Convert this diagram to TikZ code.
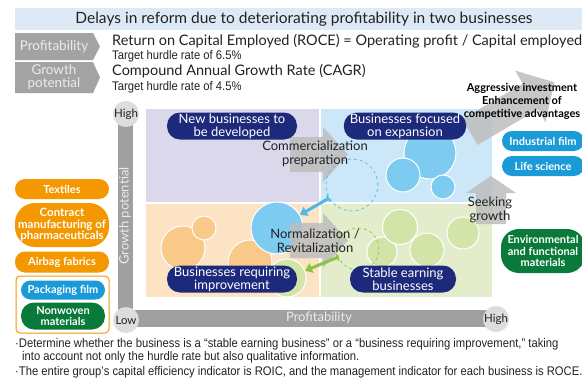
\documentclass[tikz,border=0pt]{standalone}
\usepackage{fontspec}
\setmainfont{Lato}
\newfontfamily\narrowfont[FakeStretch=0.9]{Liberation Sans}
\usetikzlibrary{arrows.meta}

\definecolor{navy}{HTML}{1D2A7B}
\definecolor{titleblue}{HTML}{DDEAF6}
\definecolor{chevgray}{HTML}{A3A3A3}
\definecolor{axisgray}{HTML}{A0A0A0}
\definecolor{dotgray}{HTML}{DDDDDD}
\definecolor{lavender}{HTML}{DCD8EC}
\definecolor{skyquad}{HTML}{CCE7F8}
\definecolor{peachquad}{HTML}{FBE3C3}
\definecolor{limequad}{HTML}{E3EDCC}
\definecolor{peachdot}{HTML}{F9C98A}
\definecolor{skydot}{HTML}{7DCBF0}
\definecolor{limedot}{HTML}{D3E4A9}
\definecolor{skyline}{HTML}{4DB8EA}
\definecolor{limeline}{HTML}{8DC243}
\definecolor{movegray}{HTML}{BDBDBD}
\definecolor{pillorange}{HTML}{F39800}
\definecolor{pillblue}{HTML}{1A9BD7}
\definecolor{pillgreen}{HTML}{0A7A3B}
\definecolor{inkgray}{HTML}{222222}

\tikzset{
  quad/.style={draw=white, line width=1.5pt},
  bubble/.style={circle, draw=white, line width=1pt, inner sep=0pt},
  ring/.style={circle, dashed, line width=0.9pt, inner sep=0pt},
  qlabel/.style={fill=navy, text=white, rounded corners=13pt, align=center,
    minimum height=27pt, inner xsep=6pt, inner ysep=0pt,
    font=\fontsize{13}{13}\selectfont},
  pill/.style={text=white, align=center, inner sep=0pt,
    font=\bfseries\fontsize{11}{11.5}\selectfont},
  move/.style={fill=movegray, opacity=0.85},
  movetext/.style={text=inkgray, align=center, font=\fontsize{13}{14.5}\selectfont},
  axisdot/.style={circle, fill=dotgray, minimum size=26pt, inner sep=0pt,
    text=inkgray, font=\fontsize{11.5}{12}\selectfont},
  note/.style={anchor=west, inner sep=0pt, text=inkgray,
    font=\narrowfont\fontsize{12.5}{12}\selectfont},
}

\begin{document}
\begin{tikzpicture}[x=1pt,y=-1pt]
  \useasboundingbox (0,0) rectangle (582,380);

  % heading and the two indicators
  \fill[titleblue] (15,8) rectangle (582,30);
  \node[text=inkgray, font=\fontsize{15.5}{15}\selectfont] (title) at (304,19)
    {Delays in reform due to deteriorating profitability in two businesses};

  \foreach \top/\bot in {33/60, 62/93} {
    \fill[chevgray] (15,\top) -- (93,\top) -- (100,{(\top+\bot)/2}) -- (93,\bot) -- (15,\bot) -- cycle;
  }
  \node[text=white!92!black, font=\fontsize{13.5}{12}\selectfont] (kpi1) at (54,47) {Profitability};
  \node[text=white!92!black, align=center, font=\fontsize{13.5}{13}\selectfont] (kpi2) at (54,77) {Growth\\potential};

  \node[anchor=west, inner sep=0pt, text=inkgray, font=\fontsize{14.5}{14}\selectfont] (roce) at (112,41)
    {Return on Capital Employed (ROCE) = Operating profit / Capital employed};
  \node[note] (roce-t) at (112,56) {Target hurdle rate of 6.5\%};
  \node[anchor=west, inner sep=0pt, text=inkgray, font=\fontsize{14.5}{14}\selectfont] (cagr) at (112,71)
    {Compound Annual Growth Rate (CAGR)};
  \node[note] (cagr-t) at (112,87) {Target hurdle rate of 4.5\%};

  % the four quadrants
  \filldraw[quad, fill=lavender] (145,108) rectangle (320,203);
  \filldraw[quad, fill=skyquad] (320,108) rectangle (493,203);
  \filldraw[quad, fill=peachquad] (145,203) rectangle (320,298);
  \filldraw[quad, fill=limequad] (320,203) rectangle (493,298);

  % axes
  \fill[axisgray] (118,114) rectangle (133,320);
  \fill[axisgray] (126,310) rectangle (496,327);
  \node[axisdot] (gHigh) at (126,114) {High};
  \node[axisdot] (gLow) at (126,320) {Low};
  \node[axisdot] (pHigh) at (496,319) {High};
  \node[rotate=90, text=white!92!black, font=\fontsize{13}{12}\selectfont] (gLabel) at (125,216) {Growth potential};
  \node[text=white!92!black, font=\fontsize{13}{12}\selectfont] (pLabel) at (319,318) {Profitability};

  % businesses as bubbles
  \node[bubble, fill=peachdot, minimum size=44pt] (p1) at (183,248) {};
  \node[bubble, fill=peachdot, minimum size=24pt] (p2) at (204,228) {};
  \node[bubble, fill=peachdot, minimum size=44pt] (p3) at (250,262) {};
  \node[bubble, fill=skydot, minimum size=52pt] (bluebig) at (277,228) {};
  \node[bubble, fill=limedot, minimum size=38pt] (greenlow) at (287,278) {};

  \node[bubble, fill=skydot, minimum size=52pt] (s1) at (430,153) {};
  \node[bubble, fill=skydot, minimum size=34pt] (s2) at (403,175) {};
  \node[bubble, fill=skydot, minimum size=24pt] (s3) at (443,187) {};

  \node[bubble, fill=limedot, minimum size=30pt] (g1) at (382,252) {};
  \node[bubble, fill=limedot, minimum size=35pt] (g2) at (400,227) {};
  \node[bubble, fill=limedot, minimum size=34pt] (g3) at (427,250) {};
  \node[bubble, fill=limedot, minimum size=32pt] (g4) at (463,233) {};

  % moves between quadrants
  \foreach \y in {154.5, 240.5} {
    \fill[move] (290,\y-17.5) -- (323,\y-17.5) -- (323,\y-27.5) -- (348,\y)
      -- (323,\y+27.5) -- (323,\y+17.5) -- (290,\y+17.5) -- cycle;
  }
  \fill[move] (476,224) -- (476,193) -- (466,193) -- (491,176) -- (516,193) -- (506,193) -- (506,224) -- cycle;
  \begin{scope}[shift={(470,132)}, rotate=30.5]
    \fill[move] (0,-15) -- (70,-15) -- (70,-30) -- (98,0) -- (70,30) -- (70,15) -- (0,15) -- cycle;
  \end{scope}

  \node[ring, draw=skyline!85, minimum size=52pt] (dashblue) at (352,185) {};
  \node[ring, draw=limeline!85, minimum size=42pt] (dashgreen) at (358,249) {};
  \draw[skyline, line width=3pt, {Bar[width=7pt,line width=1.5pt]}-{Triangle[width=10pt,length=7pt]}] (dashblue) -- (bluebig);
  \draw[limeline, line width=3pt, {Bar[width=7pt,line width=1.5pt]}-{Triangle[width=10pt,length=7pt]}] (dashgreen) -- (greenlow);

  \node[movetext] (comm) at (315,154) {Commercialization\\preparation};
  \node[movetext] (norm) at (315,241) {Normalization /\\Revitalization};
  \node[movetext] (seek) at (490,210) {Seeking\\growth};
  \node[text=black, align=center, font=\bfseries\fontsize{11}{13}\selectfont] (aggr) at (522,101)
    {Aggressive investment\\Enhancement of\\competitive advantages};

  % quadrant names
  \node[qlabel, minimum width=130pt] (qNew) at (232,126) {New businesses to\\be developed};
  \node[qlabel, minimum width=121pt] (qFocus) at (405,126) {Businesses focused\\on expansion};
  \node[qlabel, minimum width=130pt] (qImprove) at (232,279) {Businesses requiring\\improvement};
  \node[qlabel, minimum width=106pt] (qStable) at (403,279) {Stable earning\\businesses};

  % businesses on the right
  \node[pill, fill=pillblue, rounded corners=10pt, minimum width=82pt, minimum height=20pt] (indfilm) at (543,141) {Industrial film};
  \node[pill, fill=pillblue, rounded corners=10pt, minimum width=82pt, minimum height=20pt] (lifesci) at (543,166) {Life science};
  \node[pill, fill=pillgreen, rounded corners=18pt, minimum width=84pt, minimum height=44pt] (envmat) at (543,251)
    {Environmental\\and functional\\materials};

  % businesses on the left
  \node[pill, fill=pillorange, rounded corners=10pt, minimum width=94pt, minimum height=20pt] (textiles) at (62,189) {Textiles};
  \node[pill, fill=pillorange, rounded corners=20pt, minimum width=94pt, minimum height=44pt,
    font=\bfseries\fontsize{11.5}{11.5}\selectfont] (pharma) at (62,225)
    {Contract\\manufacturing of\\pharmaceuticals};
  \node[pill, fill=pillorange, rounded corners=10pt, minimum width=94pt, minimum height=21pt] (airbag) at (62,262) {Airbag fabrics};
  \draw[pillorange, line width=1pt, rounded corners=4pt] (16,276) rectangle (109,333);
  \node[pill, fill=pillblue, rounded corners=9.5pt, minimum width=84pt, minimum height=19pt] (packfilm) at (63,290) {Packaging film};
  \node[pill, fill=pillgreen, rounded corners=13pt, minimum width=84pt, minimum height=27pt] (nonwoven) at (63,316)
    {Nonwoven\\materials};

  % notes
  \node[note] (note1) at (15,344) {·Determine whether the business is a “stable earning business” or a “business requiring improvement,” taking};
  \node[note] (note2) at (22,357) {into account not only the hurdle rate but also qualitative information.};
  \node[note] (note3) at (15,372) {·The entire group’s capital efficiency indicator is ROIC, and the management indicator for each business is ROCE.};
\end{tikzpicture}
\end{document}
